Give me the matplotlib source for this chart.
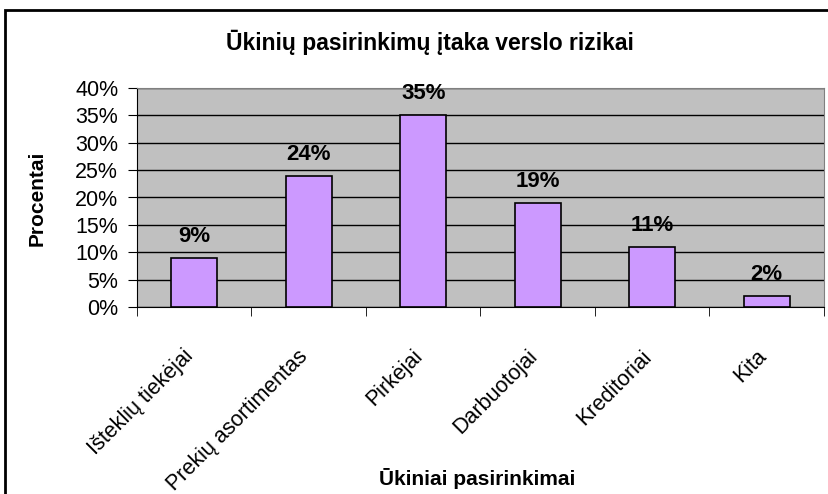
import matplotlib.pyplot as plt
from matplotlib.patches import Rectangle
from matplotlib.ticker import FixedLocator, PercentFormatter
from matplotlib.transforms import ScaledTranslation

categories = ["Išteklių tiekėjai", "Prekių asortimentas", "Pirkėjai",
              "Darbuotojai", "Kreditoriai", "Kita"]
values = [9, 24, 35, 19, 11, 2]

plt.rcParams['font.family'] = ['Liberation Sans', 'DejaVu Sans']

W, H = 829, 494
fig = plt.figure(figsize=(W / 100, H / 100), dpi=100)
ax = fig.add_axes([137 / W, 1 - 307 / H, (824 - 137) / W, (307 - 88) / H])

ax.set_facecolor("#C0C0C0")
x = range(len(categories))
ax.bar(x, values, width=0.4, color="#CC99FF", edgecolor="black", linewidth=1.2, zorder=3)
for i, v in zip(x, values):
    ax.annotate("{}%".format(v), (i, v), xytext=(0, 11.5), textcoords="offset points",
                ha="center", va="baseline", fontsize=16, fontweight="bold")

ax.set_xlim(-0.5, len(categories) - 0.5)
ax.set_ylim(0, 40)
ax.set_yticks(range(0, 41, 5))
ax.yaxis.set_major_formatter(PercentFormatter(decimals=0))
ax.yaxis.grid(True, color="black", linewidth=1, zorder=1)
ax.set_axisbelow(True)

ax.set_xticks(list(x))
ax.set_xticklabels(categories, rotation=45, ha="right", rotation_mode="anchor",
                   fontsize=15.5)
ax.tick_params(axis="x", length=0, pad=28)
shift = ScaledTranslation(-8 / 72, 0, fig.dpi_scale_trans)
for lab in ax.get_xticklabels():
    lab.set_transform(lab.get_transform() + shift)
ax.xaxis.set_minor_locator(FixedLocator([i - 0.5 for i in range(len(categories) + 1)]))
ax.tick_params(axis="x", which="minor", length=6.5, direction="out", color="black")
ax.tick_params(axis="y", length=6.5, direction="out", labelsize=15.5, pad=7)

for s in ["top", "right"]:
    ax.spines[s].set_color("#808080")
ax.spines["left"].set_color("black")
ax.spines["bottom"].set_color("black")

fig.text(430 / W, 1 - 42 / H, "Ūkinių pasirinkimų įtaka verslo rizikai",
         ha="center", va="center", fontsize=16.5, fontweight="bold")
fig.text(37 / W, 1 - 198 / H, "Procentai", rotation=90,
         ha="center", va="center", fontsize=15, fontweight="bold")
fig.text(477 / W, 1 - 478 / H, "Ūkiniai pasirinkimai",
         ha="center", va="center", fontsize=15, fontweight="bold")

fig.patches.append(Rectangle((5 / W, -0.1), 1.2, 1 - 10 / H + 0.1, transform=fig.transFigure,
                             fill=False, edgecolor="black", linewidth=2))

fig.savefig("out.png", dpi=100)
